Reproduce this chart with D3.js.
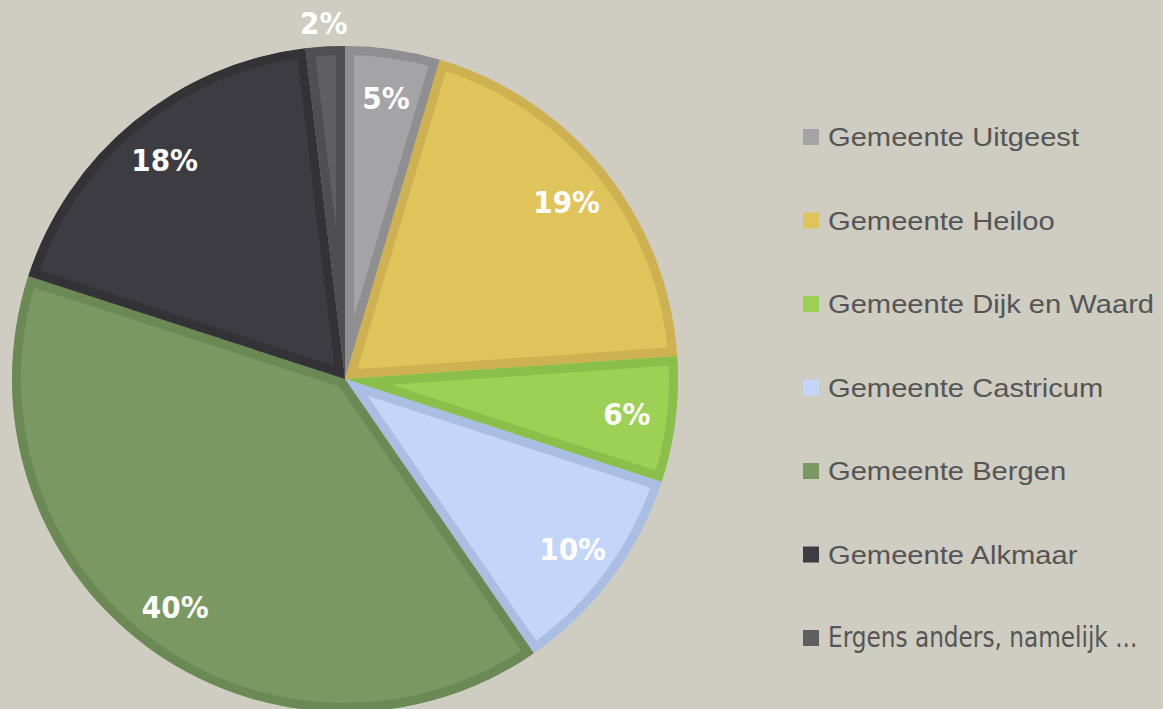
<!DOCTYPE html>
<html>
<head>
<meta charset="utf-8">
<script src="https://cdn.jsdelivr.net/npm/d3@7"></script>
<style>
  html, body { margin: 0; padding: 0; background: #cfccc1; }
  svg { display: block; }
</style>
</head>
<body>
<div id="main"></div>
<script>
var categories = ["Gemeente Uitgeest", "Gemeente Heiloo", "Gemeente Dijk en Waard",
                  "Gemeente Castricum", "Gemeente Bergen", "Gemeente Alkmaar",
                  "Ergens anders, namelijk ..."];
// shares, labels as printed on the chart
var values = [4.6, 19.3, 6.1, 10.4, 39.6, 18.1, 1.9];
var labels = ["5%", "19%", "6%", "10%", "40%", "18%", "2%"];
var fills = ["#a4a4a6", "#dfc35b", "#9cd156", "#c3d5f8", "#7a9962", "#3d3c42", "#5f5f61"];
var borders = ["#8f8f91", "#ceb150", "#8bbf4b", "#aabee4", "#6b8955", "#333237", "#4f4f52"];

var width = 1163, height = 709;
var cx = 345, cy = 379, radius = 333, border = 9;

var svg = d3.select("#main").append("svg")
    .attr("width", width)
    .attr("height", height);

var pie = d3.pie().sort(null).value(function(d) { return d; });
var arcs = pie(values);
var arc = d3.arc().innerRadius(0).outerRadius(radius);

var g = svg.append("g").attr("transform", "translate(" + cx + "," + cy + ")");

// clip each slice to itself so the stroke only shows on the inside
var defs = svg.append("defs");
defs.selectAll("clipPath")
    .data(arcs)
    .enter()
    .append("clipPath")
    .attr("id", function(d, i) { return "clip" + i; })
    .append("path")
    .attr("d", arc);

g.selectAll("path.slice")
    .data(arcs)
    .enter()
    .append("path")
    .attr("class", "slice")
    .attr("d", arc)
    .attr("fill", function(d, i) { return fills[i]; })
    .attr("stroke", function(d, i) { return borders[i]; })
    .attr("stroke-width", border * 2)
    .attr("clip-path", function(d, i) { return "url(#clip" + i + ")"; });

// percentage labels, the tiny slice gets its label outside
var labelArc = d3.arc().innerRadius(284).outerRadius(284);
var outerArc = d3.arc().innerRadius(357).outerRadius(357);

g.selectAll("text.pct")
    .data(arcs)
    .enter()
    .append("text")
    .attr("class", "pct")
    .attr("transform", function(d) {
      var c = d.data < 3 ? outerArc.centroid(d) : labelArc.centroid(d);
      return "translate(" + c[0] + "," + c[1] + ")";
    })
    .attr("text-anchor", "middle")
    .attr("dy", "0.37em")
    .attr("fill", "#ffffff")
    .style("font-family", "'DejaVu Sans Condensed', 'DejaVu Sans', sans-serif")
    .style("font-weight", "bold")
    .style("font-size", "31px")
    .text(function(d, i) { return labels[i]; });

// legend
var legend = svg.append("g").attr("transform", "translate(803,0)");
var rowY = d3.scalePoint().domain(categories).range([146, 647]);

var items = legend.selectAll("g.item")
    .data(categories)
    .enter()
    .append("g")
    .attr("class", "item")
    .attr("transform", function(d) { return "translate(0," + rowY(d) + ")"; });

items.append("rect")
    .attr("x", 0)
    .attr("y", -17)
    .attr("width", 16)
    .attr("height", 16)
    .attr("fill", function(d, i) { return fills[i]; });

items.append("text")
    .attr("transform", function(d, i) {
      return i === 6 ? "translate(25,0) scale(1,1.1)" : "translate(25,0) scale(1.1,1)";
    })
    .attr("fill", "#555555")
    .style("font-family", function(d, i) {
      return i === 6 ? "'DejaVu Sans Condensed', sans-serif" : "'Liberation Sans', Arial, sans-serif";
    })
    .style("font-size", function(d, i) { return i === 6 ? "25.8px" : "26.5px"; })
    .text(function(d) { return d; });
</script>
</body>
</html>
